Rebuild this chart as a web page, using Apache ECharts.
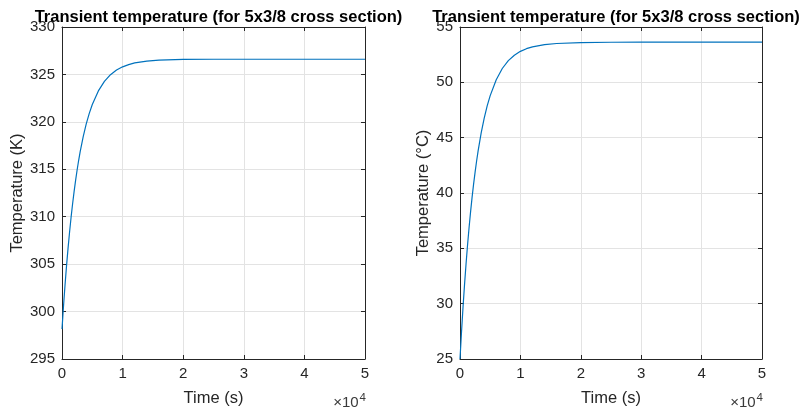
<!DOCTYPE html>
<html>
<head>
<meta charset="utf-8">
<title>Transient temperature</title>
<script src="https://cdn.jsdelivr.net/npm/echarts@6/dist/echarts.min.js"></script>
<style>
    html, body { margin: 0; padding: 0; background: #fff; }
    #main { width: 800px; height: 414px; }
</style>
</head>
<body>
<div id="main"></div>
<script>
    // time samples (s)
    var timeSec = [0, 250, 500, 750, 1000, 1250, 1500, 1750, 2000, 2250, 2500, 2750, 3000, 3500,
        4000, 4500, 5000, 6000, 7000, 8000, 9000, 10000, 11000, 12000, 14000, 16000, 20000,
        25000, 30000, 40000, 50000];
    // left plot, Kelvin
    var tempK = [298.15, 300.58, 302.80, 304.84, 306.69, 308.39, 309.95, 311.37, 312.67, 313.86,
        314.95, 315.95, 316.86, 318.45, 319.78, 320.90, 321.83, 323.26, 324.26, 324.97, 325.46,
        325.80, 326.04, 326.21, 326.41, 326.51, 326.58, 326.60, 326.60, 326.60, 326.60];
    // right plot, Celsius
    var tempC = [25.00, 27.44, 29.68, 31.72, 33.59, 35.30, 36.86, 38.29, 39.60, 40.80,
        41.89, 42.89, 43.80, 45.41, 46.74, 47.87, 48.80, 50.24, 51.25, 51.96, 52.45,
        52.80, 53.04, 53.21, 53.41, 53.51, 53.58, 53.62, 53.63, 53.63, 53.63];

    var titleText = 'Transient temperature (for 5x3/8 cross section)';
    var xName = 'Time (s)';
    var yNames = ['Temperature (K)', 'Temperature (\u00b0C)'];
    var yRanges = [[295, 330], [25, 55]];
    var yNameGaps = [35, 28];

    var fontFam = '"Liberation Sans", Arial, Helvetica, sans-serif';
    var axisCol = '#262626';
    var gridCol = '#e3e3e3';
    var lineCol = '#0072BD';

    var grids = [
        {left: 62, top: 27, width: 303, height: 332},
        {left: 460, top: 27, width: 302, height: 332}
    ];

    function pairs(xs, ys) {
        var out = [];
        for (var i = 0; i < xs.length; i++) out.push([xs[i], ys[i]]);
        return out;
    }

    var xAxes = [], yAxes = [], series = [];
    grids.forEach(function (g, k) {
        // bottom axis with labels and grid lines
        xAxes.push({
            type: 'value', gridIndex: k, min: 0, max: 50000, interval: 10000,
            position: 'bottom',
            name: xName, nameLocation: 'middle', nameGap: 31,
            nameTextStyle: {color: axisCol, fontSize: 16.5, fontFamily: fontFam},
            axisLine: {show: true, lineStyle: {color: axisCol, width: 1}},
            axisTick: {show: true, inside: true, length: 4, lineStyle: {color: axisCol}},
            axisLabel: {color: axisCol, fontSize: 15, fontFamily: fontFam, margin: 7,
                formatter: function (v) { return v / 10000; }},
            splitLine: {show: true, lineStyle: {color: gridCol, width: 1}}
        });
        // top axis, box edge + ticks only
        xAxes.push({
            type: 'value', gridIndex: k, min: 0, max: 50000, interval: 10000,
            position: 'top',
            axisLine: {show: true, onZero: false, lineStyle: {color: axisCol, width: 1}},
            axisTick: {show: true, inside: true, length: 4, lineStyle: {color: axisCol}},
            axisLabel: {show: false},
            splitLine: {show: false}
        });
        yAxes.push({
            type: 'value', gridIndex: k, min: yRanges[k][0], max: yRanges[k][1], interval: 5,
            position: 'left',
            name: yNames[k], nameLocation: 'middle', nameGap: yNameGaps[k],
            nameTextStyle: {color: axisCol, fontSize: 16.5, fontFamily: fontFam},
            axisLine: {show: true, onZero: false, lineStyle: {color: axisCol, width: 1}},
            axisTick: {show: true, inside: true, length: 4, lineStyle: {color: axisCol}},
            axisLabel: {color: axisCol, fontSize: 15, fontFamily: fontFam, margin: 7},
            splitLine: {show: true, lineStyle: {color: gridCol, width: 1}}
        });
        yAxes.push({
            type: 'value', gridIndex: k, min: yRanges[k][0], max: yRanges[k][1], interval: 5,
            position: 'right',
            axisLine: {show: true, onZero: false, lineStyle: {color: axisCol, width: 1}},
            axisTick: {show: true, inside: true, length: 4, lineStyle: {color: axisCol}},
            axisLabel: {show: false},
            splitLine: {show: false}
        });
        series.push({
            type: 'line', xAxisIndex: k * 2, yAxisIndex: k * 2,
            data: pairs(timeSec, k === 0 ? tempK : tempC),
            showSymbol: false, smooth: false,
            lineStyle: {color: lineCol, width: 1.2},
            z: 5
        });
    });

    var titles = grids.map(function (g) {
        return {
            text: titleText, left: g.left + g.width / 2, top: 4, textAlign: 'center',
            textStyle: {fontSize: 16.5, fontWeight: 'bold', color: '#000', fontFamily: fontFam}
        };
    });

    // MATLAB style exponent marker under the right end of each x axis
    var expMarks = grids.map(function (g) {
        return {
            type: 'text', right: 800 - (g.left + g.width) - 1, top: 392,
            style: {
                text: '{b|\u00d710}{s|4}',
                rich: {
                    b: {fontSize: 15, fontFamily: fontFam, fill: '#3a3a3a', color: '#3a3a3a'},
                    s: {fontSize: 11.5, fontFamily: fontFam, fill: '#3a3a3a', color: '#3a3a3a',
                        verticalAlign: 'top', padding: [0, 0, 10, 1]}
                }
            }
        };
    });

    var myChart = echarts.init(document.getElementById('main'), null, {renderer: 'canvas'});
    myChart.setOption({
        animation: false,
        backgroundColor: '#fff',
        title: titles,
        grid: grids,
        xAxis: xAxes,
        yAxis: yAxes,
        series: series,
        graphic: expMarks
    });
</script>
</body>
</html>
